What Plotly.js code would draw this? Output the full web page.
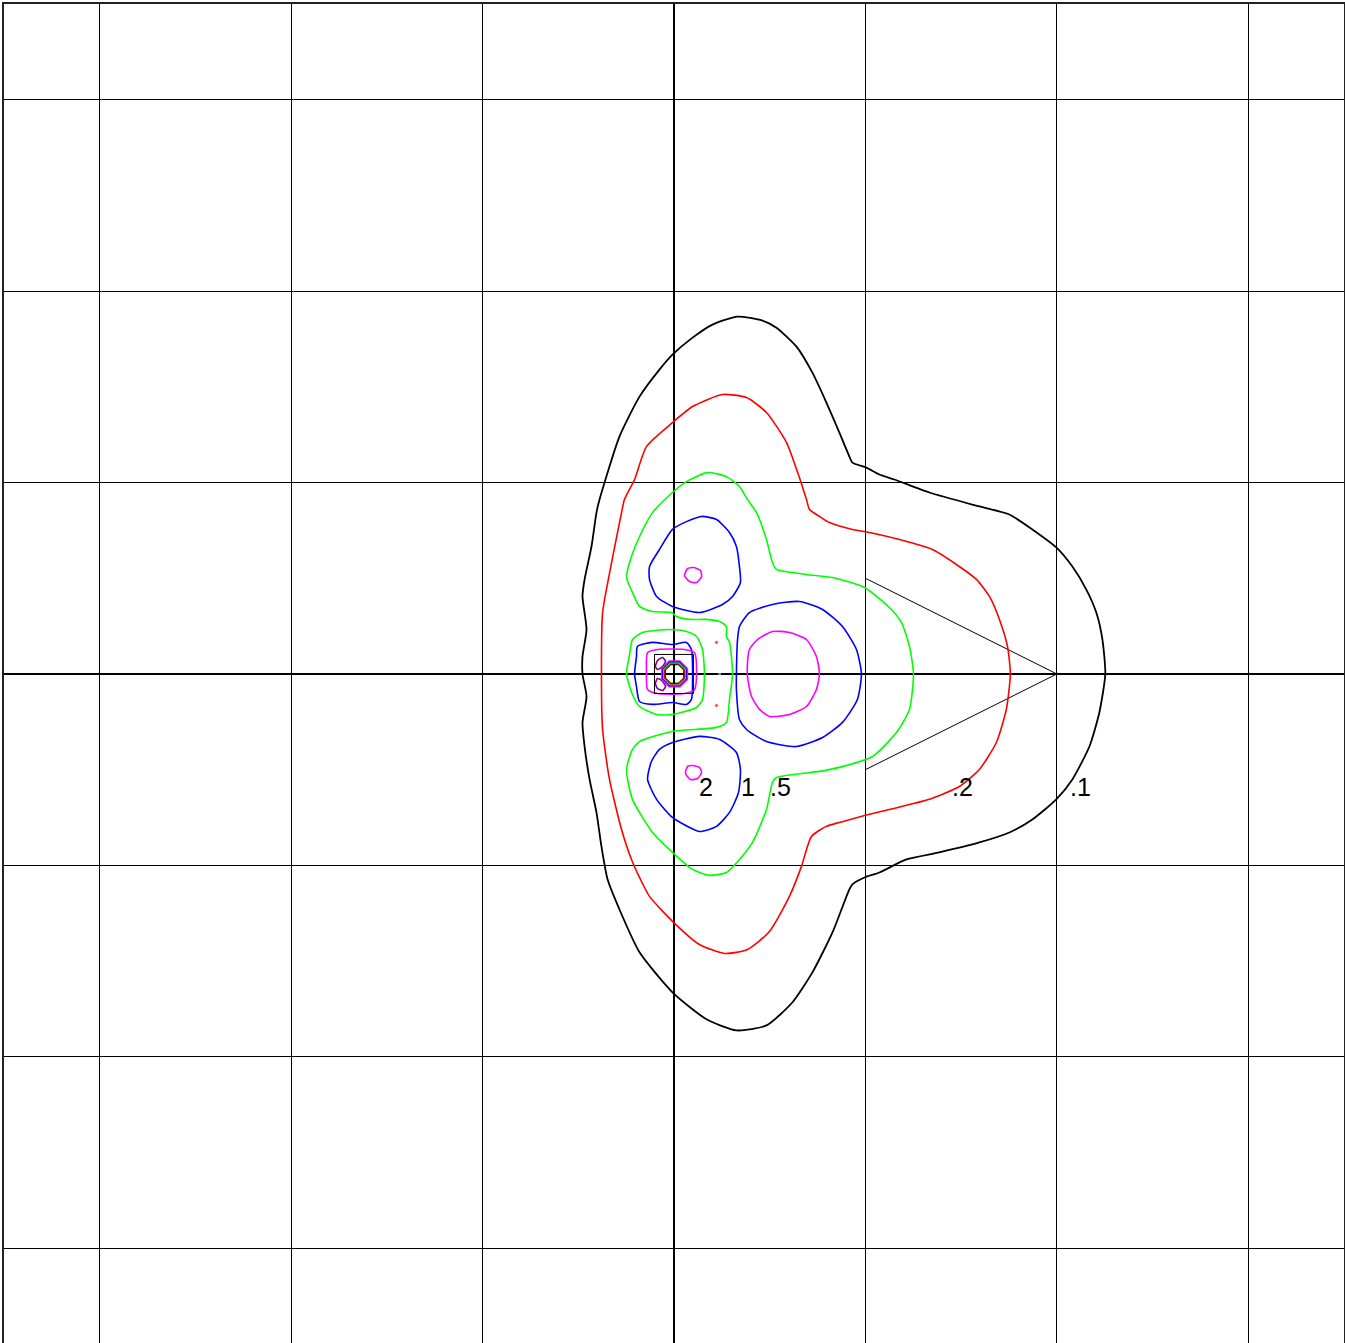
<!DOCTYPE html>
<html>
<head>
<meta charset="utf-8">
<script src="https://cdn.plot.ly/plotly-3.0.1.min.js"></script>
<style>html,body{margin:0;padding:0;background:#fff;}#plot{width:1345px;height:1343px;}</style>
</head>
<body>
<div id="plot"></div>
<script>
// Contour level labels
const levelLabels = ['2', '1', '.5', '.2', '.1'];
const labelX = [0.165, 0.389, 0.556, 1.507, 2.123];
const labelY = [-0.588, -0.588, -0.588, -0.588, -0.588];

// Level .1 (black)
const c01x = [2.253,2.238,2.206,2.154,2.081,1.997,1.872,1.752,1.595,1.334,1.151,1.073,1.005,0.932,0.916,0.864,0.796,0.723,0.640,0.535,0.462,0.332,0.201,0.097,-0.008,-0.076,-0.180,-0.285,-0.389,-0.405,-0.431,-0.467,-0.478,-0.457,-0.478,-0.478,-0.457,-0.478,-0.467,-0.441,-0.405,-0.379,-0.347,-0.285,-0.180,-0.008,0.170,0.326,0.483,0.619,0.723,0.828,0.916,0.932,0.995,1.073,1.214,1.386,1.595,1.752,1.872,1.997,2.081,2.170,2.222,2.253];
const c01y = [0.000,0.180,0.321,0.441,0.561,0.661,0.755,0.833,0.875,0.948,1.016,1.042,1.078,1.104,1.136,1.261,1.418,1.574,1.710,1.809,1.846,1.867,1.825,1.757,1.668,1.590,1.449,1.240,0.911,0.843,0.666,0.494,0.405,0.232,0.091,0.000,-0.118,-0.253,-0.379,-0.551,-0.723,-0.901,-1.073,-1.230,-1.454,-1.663,-1.804,-1.862,-1.836,-1.715,-1.559,-1.350,-1.125,-1.099,-1.063,-1.037,-0.969,-0.932,-0.880,-0.828,-0.760,-0.655,-0.551,-0.379,-0.201,0.000];

// Level .2 (red)
const c02x = [1.757,1.742,1.700,1.648,1.580,1.475,1.350,1.178,0.995,0.932,0.812,0.760,0.708,0.692,0.655,0.588,0.483,0.379,0.253,0.097,-0.008,-0.144,-0.206,-0.259,-0.274,-0.326,-0.373,-0.379,-0.373,-0.337,-0.274,-0.222,-0.180,-0.128,-0.008,0.133,0.264,0.384,0.499,0.603,0.666,0.718,0.796,0.864,0.995,1.125,1.334,1.491,1.595,1.684,1.736,1.757];
const c02y = [0.000,0.144,0.285,0.405,0.494,0.572,0.650,0.702,0.744,0.755,0.791,0.823,0.859,0.911,1.026,1.209,1.366,1.444,1.460,1.397,1.313,1.188,1.016,0.911,0.843,0.582,0.321,0.000,-0.290,-0.551,-0.812,-0.969,-1.063,-1.162,-1.292,-1.413,-1.460,-1.439,-1.345,-1.162,-1.005,-0.849,-0.796,-0.776,-0.739,-0.708,-0.655,-0.588,-0.499,-0.358,-0.185,0.000];

// Level .5 (green), outer lobes
const c05x = [0.274,0.274,0.238,0.170,0.081,0.013,-0.013,-0.112,-0.180,-0.217,-0.248,-0.232,-0.180,-0.112,-0.008,0.065,0.175,0.274,0.342,0.384,0.431,0.483,0.514,0.535,0.692,0.828,0.995,1.125,1.188,1.230,1.251,1.230,1.162,1.037,0.864,0.760,0.535,0.514,0.483,0.410,0.342,0.274,0.185,0.097,-0.008,-0.112,-0.217,-0.248,-0.217,-0.180,-0.008,0.222,0.274,0.290,0.306,0.290,0.274];
const c05y = [0.196,0.248,0.274,0.285,0.285,0.300,0.321,0.326,0.353,0.426,0.504,0.582,0.718,0.843,0.948,1.005,1.052,1.031,0.979,0.911,0.843,0.702,0.582,0.546,0.520,0.504,0.452,0.347,0.269,0.144,0.000,-0.185,-0.306,-0.431,-0.488,-0.509,-0.541,-0.567,-0.708,-0.880,-0.969,-1.037,-1.052,-1.021,-0.932,-0.828,-0.655,-0.499,-0.394,-0.353,-0.300,-0.279,-0.253,-0.133,0.000,0.165,0.196];
// Level .5 (green), centre
const c05cx = [-0.217,-0.165,-0.024,0.065,0.118,0.149,0.159,0.149,0.118,-0.008,-0.091,-0.180,-0.217,-0.248,-0.232,-0.217];
const c05cy = [0.180,0.217,0.232,0.222,0.196,0.128,0.000,-0.133,-0.175,-0.212,-0.212,-0.170,-0.107,0.000,0.102,0.180];

// Level 1 (blue)
const c1ax = [0.144,0.222,0.290,0.326,0.342,0.347,0.306,0.253,0.133,-0.008,-0.091,-0.128,-0.128,-0.076,-0.008,0.065,0.144];
const c1ay = [0.823,0.807,0.739,0.666,0.561,0.478,0.405,0.363,0.321,0.353,0.405,0.494,0.561,0.650,0.755,0.796,0.823];
const c1bx = [-0.008,0.133,0.238,0.326,0.347,0.337,0.290,0.222,0.133,-0.008,-0.091,-0.138,-0.118,-0.076,-0.008];
const c1by = [-0.358,-0.326,-0.342,-0.410,-0.499,-0.619,-0.723,-0.796,-0.823,-0.749,-0.655,-0.551,-0.457,-0.394,-0.358];
const c1cx = [0.342,0.394,0.514,0.655,0.776,0.880,0.953,0.979,0.958,0.880,0.776,0.640,0.483,0.379,0.342,0.326,0.326,0.332,0.342];
const c1cy = [0.248,0.321,0.363,0.379,0.337,0.248,0.128,0.000,-0.133,-0.253,-0.332,-0.379,-0.353,-0.290,-0.238,-0.081,0.000,0.180,0.248];
const c1dx = [-0.191,-0.112,-0.008,0.065,0.091,0.097,0.091,0.065,-0.008,-0.112,-0.180,-0.196,-0.206,-0.196,-0.191];
const c1dy = [0.144,0.165,0.154,0.165,0.128,0.000,-0.133,-0.159,-0.149,-0.159,-0.144,-0.065,0.000,0.091,0.144];

// Level 2 (magenta)
const c2ax = [0.102,0.138,0.144,0.118,0.081,0.055,0.071,0.102];
const c2ay = [0.556,0.541,0.509,0.478,0.483,0.514,0.551,0.556];
const c2bx = [0.097,0.133,0.144,0.123,0.086,0.060,0.071,0.097];
const c2by = [-0.478,-0.488,-0.514,-0.546,-0.551,-0.520,-0.483,-0.478];
const c2cx = [0.394,0.436,0.514,0.603,0.692,0.744,0.760,0.744,0.692,0.603,0.499,0.447,0.405,0.384,0.384,0.394];
const c2cy = [0.128,0.180,0.222,0.217,0.180,0.091,0.000,-0.081,-0.170,-0.212,-0.222,-0.185,-0.118,-0.013,0.060,0.128];
const c2dx = [-0.138,-0.086,0.055,0.107,0.118,0.107,0.055,-0.086,-0.138,-0.144,-0.138];
const c2dy = [0.112,0.128,0.128,0.112,0.013,-0.081,-0.102,-0.102,-0.081,0.013,0.112];

// Small closed loops near the origin (purple)
const c4ax = [-0.060,-0.044,-0.065,-0.086,-0.097,-0.086,-0.060];
const c4ay = [0.086,0.065,0.034,0.024,0.039,0.071,0.086];
const c4bx = [-0.086,-0.065,-0.044,-0.060,-0.086,-0.097,-0.086];
const c4by = [-0.024,-0.034,-0.065,-0.086,-0.076,-0.050,-0.024];

// Nested rings at the origin
const ringMx = [0.070,0.031,-0.025,-0.064,-0.064,-0.025,0.031,0.070,0.070];
const ringMy = [0.028,0.067,0.067,0.028,-0.028,-0.067,-0.067,-0.028,0.028];
const ringBx = [0.064,0.028,-0.022,-0.058,-0.058,-0.022,0.028,0.064,0.064];
const ringBy = [0.025,0.061,0.061,0.025,-0.025,-0.061,-0.061,-0.025,0.025];
const ringGx = [0.059,0.026,-0.020,-0.053,-0.053,-0.020,0.026,0.059,0.059];
const ringGy = [0.023,0.056,0.056,0.023,-0.023,-0.056,-0.056,-0.023,0.023];
const ringRx = [0.055,0.024,-0.018,-0.049,-0.049,-0.018,0.024,0.055,0.055];
const ringRy = [0.021,0.052,0.052,0.021,-0.021,-0.052,-0.052,-0.021,0.021];
const ringKx = [0.051,0.023,-0.017,-0.045,-0.045,-0.017,0.023,0.051,0.051];
const ringKy = [0.020,0.048,0.048,0.020,-0.020,-0.048,-0.048,-0.020,0.020];

// Square around the origin
const boxX = [-0.102,0.102,0.102,-0.102,-0.102];
const boxY = [0.102,0.102,-0.102,-0.102,0.102];

// Red dots
const dotX = [0.222,0.238,0.222];
const dotY = [0.165,0.000,-0.165];
const dotSize = [4,2,4];

// Thin wedge lines
const wedgeX = [1.0,2.0,1.0];
const wedgeY = [0.5,0.0,-0.5];

function line(x, y, color, width, smooth) {
  const ln = {color:color, width:width};
  if (smooth) { ln.shape = 'spline'; ln.smoothing = 0.6; }
  return {type:'scatter', mode:'lines', x:x, y:y, hoverinfo:'skip',
          line:ln, showlegend:false};
}

const traces = [
  line(wedgeX, wedgeY, '#000000', 1, false),
  line(c01x, c01y, '#000000', 1.8, true),
  line(c02x, c02y, '#ff0000', 1.6, true),
  line(c05x, c05y, '#00ff00', 1.6, true),
  line(c05cx, c05cy, '#00ff00', 1.6, true),
  line(c1ax, c1ay, '#0000ff', 1.6, true),
  line(c1bx, c1by, '#0000ff', 1.6, true),
  line(c1cx, c1cy, '#0000ff', 1.6, true),
  line(c1dx, c1dy, '#0000ff', 1.6, true),
  line(c2ax, c2ay, '#ff00ff', 1.6, true),
  line(c2bx, c2by, '#ff00ff', 1.6, true),
  line(c2cx, c2cy, '#ff00ff', 1.6, true),
  line(c2dx, c2dy, '#ff00ff', 1.6, true),
  line(c4ax, c4ay, '#800080', 1.6, true),
  line(c4bx, c4by, '#800080', 1.6, true),
  line(boxX, boxY, '#000000', 1, false),
  line(ringMx, ringMy, '#ff00ff', 1.6, false),
  line(ringBx, ringBy, '#0000ff', 1.4, false),
  line(ringGx, ringGy, '#00ff00', 1.4, false),
  line(ringRx, ringRy, '#ff0000', 1.2, false),
  line(ringKx, ringKy, '#000000', 1, false),
  {type:'scatter', mode:'markers', x:dotX, y:dotY, hoverinfo:'skip', showlegend:false,
   marker:{color:'#ff0000', size:dotSize}}
];

const annotations = levelLabels.map((t, i) => ({
  x: labelX[i], y: labelY[i], xref:'x', yref:'y', text:t, showarrow:false,
  xanchor:'center', yanchor:'middle',
  font:{family:'Liberation Sans, Arial, sans-serif', size:25, color:'#000000'}
}));

const axisCommon = {
  tick0:0, dtick:1, showticklabels:false, ticks:'',
  showgrid:true, gridcolor:'#000000', gridwidth:1,
  zeroline:true, zerolinecolor:'#000000', zerolinewidth:2,
  showline:true, linecolor:'#222222', linewidth:2, mirror:true,
  fixedrange:true
};

const layout = {
  width:1345, height:1343,
  margin:{l:4, r:1, t:4, b:0, pad:0},
  paper_bgcolor:'#ffffff', plot_bgcolor:'#ffffff',
  showlegend:false,
  xaxis:Object.assign({}, axisCommon, {range:[-3.5, 3.5]}),
  yaxis:Object.assign({}, axisCommon, {range:[-3.495, 3.5]}),
  annotations:annotations
};

Plotly.newPlot('plot', traces, layout, {displayModeBar:false, staticPlot:true});
</script>
</body>
</html>
